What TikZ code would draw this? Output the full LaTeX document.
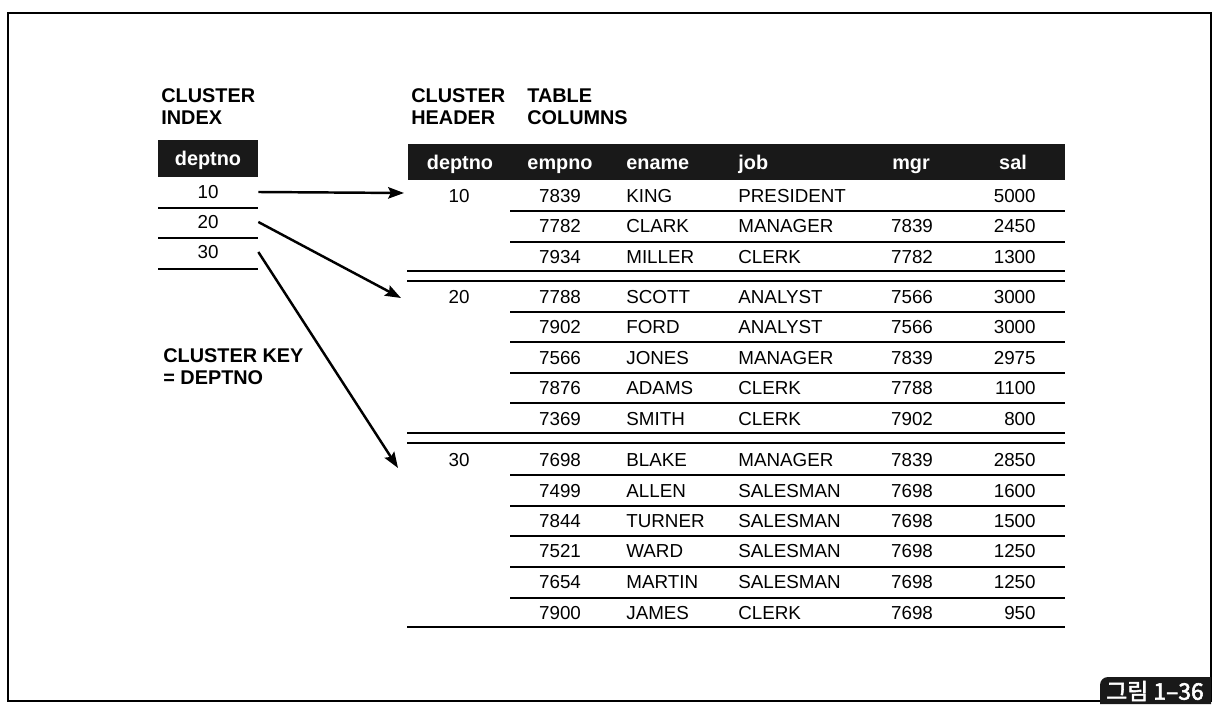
\documentclass[tikz,border=0pt]{standalone}
\usepackage{fontspec}
\setmainfont{Liberation Sans}
\newfontfamily\kofont{Noto Sans CJK KR}[AutoFakeBold=2.5]
\usetikzlibrary{arrows.meta}
\definecolor{ink}{gray}{0.1}
\tikzset{
  lbl/.style={anchor=west, align=left, inner sep=0pt, font=\fontsize{11.3}{12.5}\selectfont\bfseries},
  hdr/.style={text=white, inner sep=0pt, text height=8.1pt, text depth=0pt, font=\fontsize{11.3}{13}\selectfont\bfseries},
  cell/.style={inner sep=0pt, text height=7.7pt, text depth=0pt, font=\fontsize{10.7}{12}\selectfont},
  thinrule/.style={line width=0.8pt},
  thickrule/.style={line width=1.7pt},
  link/.style={line width=1.4pt, -{Stealth[length=9pt,width=6.5pt,inset=1.5pt]}}
}

\begin{document}
\begin{tikzpicture}[x=0.02cm, y=-0.02cm]
\useasboundingbox (0,0) rectangle (1230,716);
\draw[line width=0.9pt] (8,13) rectangle (1211,701);

\node[lbl] (idxlbl) at (161,107) {CLUSTER\\INDEX};
\node[lbl] (hdrlbl) at (411,107) {CLUSTER\\HEADER};
\node[lbl] (collbl) at (527,107) {TABLE\\COLUMNS};
\node[lbl] (keylbl) at (163,367) {CLUSTER KEY\\= DEPTNO};

% cluster index
\fill[ink] (158,140) rectangle (258,177);
\node[hdr] (ixhead) at (208,158) {deptno};
\node[cell, minimum width=2cm] (ix10) at (208,192) {10};
\node[cell, minimum width=2cm] (ix20) at (208,222) {20};
\node[cell, minimum width=2cm] (ix30) at (208,252) {30};
\draw[thinrule] (158,208) -- (258,208);
\draw[thinrule] (158,238) -- (258,238);
\draw[thickrule] (158,269) -- (258,269);

% table header
\fill[ink] (408,144) rectangle (1065,180);
\node[hdr] (hdept) at (460,162) {deptno};
\node[hdr] (hno) at (560,162) {empno};
\node[hdr, anchor=west] (hnm) at (626,162) {ename};
\node[hdr, anchor=west] (hjb) at (738,162) {job};
\node[hdr] (hmg) at (911,162) {mgr};
\node[hdr] (hsl) at (1013,162) {sal};

\node[cell] (d10) at (459,196) {10};
\node[cell] (d20) at (459,297) {20};
\node[cell] (d30) at (459,460) {30};

\foreach \y/\no/\nm/\jb/\mg/\sl [count=\r] in {
  196/7839/KING/PRESIDENT//5000,
  226/7782/CLARK/MANAGER/7839/2450,
  257/7934/MILLER/CLERK/7782/1300,
  297/7788/SCOTT/ANALYST/7566/3000,
  327/7902/FORD/ANALYST/7566/3000,
  358/7566/JONES/MANAGER/7839/2975,
  388/7876/ADAMS/CLERK/7788/1100,
  419/7369/SMITH/CLERK/7902/800,
  460/7698/BLAKE/MANAGER/7839/2850,
  491/7499/ALLEN/SALESMAN/7698/1600,
  521/7844/TURNER/SALESMAN/7698/1500,
  551/7521/WARD/SALESMAN/7698/1250,
  582/7654/MARTIN/SALESMAN/7698/1250,
  613/7900/JAMES/CLERK/7698/950} {
  \node[cell] (no\r) at (560,\y) {\no};
  \node[cell, anchor=west] (nm\r) at (626,\y) {\nm};
  \node[cell, anchor=west] (jb\r) at (738,\y) {\jb};
  \node[cell] (mg\r) at (912,\y) {\mg};
  \node[cell, anchor=east] (sl\r) at (1036,\y) {\sl};
}

\foreach \y in {211,242,312,342,373,403,475,506,536,567,598}
  \draw[thinrule] (510,\y) -- (1065,\y);
\foreach \y in {271,281,433,443,627}
  \draw[thickrule] (407,\y) -- (1065,\y);

\coordinate (to10) at (404,193);
\coordinate (to20) at (401,298);
\coordinate (to30) at (398,468);
\draw[link] (ix10.east) -- (to10);
\draw[link] (ix20.east) -- (to20);
\draw[link] (ix30.east) -- (to30);

\fill[ink] (1100,704) -- (1100,685) to[out=90,in=180] (1108,677) -- (1211,677) -- (1211,704) -- cycle;
\node[text=white, inner sep=0pt, font=\kofont\bfseries\fontsize{13}{15}\selectfont] (fig) at (1155,691) {그림 1–36};
\end{tikzpicture}
\end{document}
